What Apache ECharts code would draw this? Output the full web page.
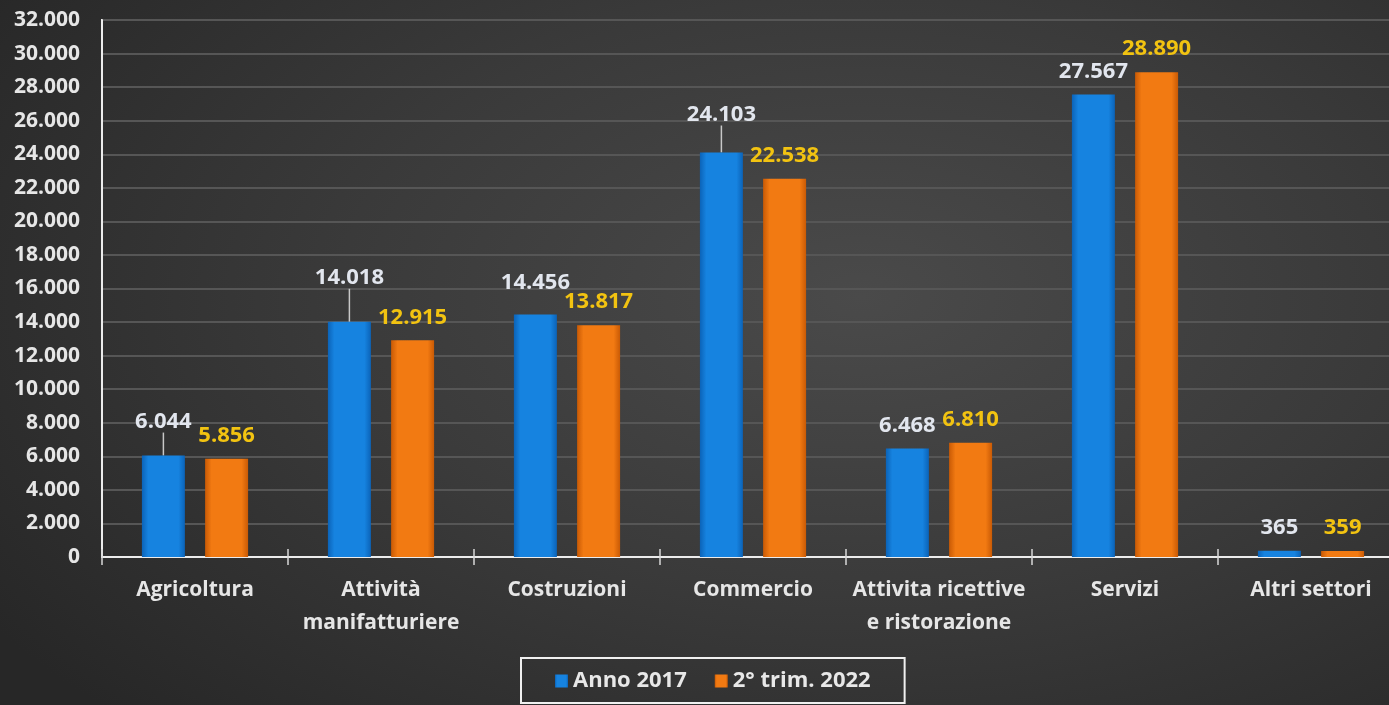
<!DOCTYPE html>
<html>
<head>
<meta charset="utf-8">
<script src="https://cdn.jsdelivr.net/npm/echarts@6/dist/echarts.min.js"></script>
<style>
  html, body { margin: 0; padding: 0; }
  #chart {
    width: 1389px; height: 705px;
    background: radial-gradient(ellipse 75% 85% at 62% 42%, #4a4a4a 0%, #3a3a3a 50%, #272727 100%);
  }
</style>
</head>
<body>
<div id="chart"></div>
<script>
// dati
var categories = ["Agricoltura", "Attività\nmanifatturiere", "Costruzioni", "Commercio",
  "Attivita ricettive\ne ristorazione", "Servizi", "Altri settori"];
var anno2017 = [6044, 14018, 14456, 24103, 6468, 27567, 365];
var trim2022 = [5856, 12915, 13817, 22538, 6810, 28890, 359];
var yTicks = { min: 0, max: 32000, step: 2000 };

// spostamento etichette serie 2017 (px verso l'alto) e linee guida
var lift2017 = [11, 21, 9, 15, 0, 0, 0];
var guide2017 = [true, true, false, true, false, false, false];

function fmt(v) {
  return String(v).replace(/\B(?=(\d{3})+(?!\d))/g, ".");
}

var font = "'Open Sans', sans-serif";

var blueFill = new echarts.graphic.LinearGradient(0, 0, 1, 0, [
  { offset: 0, color: "#0b63b8" },
  { offset: 0.15, color: "#1683e0" },
  { offset: 0.85, color: "#1683e0" },
  { offset: 1, color: "#0b63b8" }
]);
var orangeFill = new echarts.graphic.LinearGradient(0, 0, 1, 0, [
  { offset: 0, color: "#c95a05" },
  { offset: 0.15, color: "#f27a12" },
  { offset: 0.85, color: "#f27a12" },
  { offset: 1, color: "#c95a05" }
]);

var chart = echarts.init(document.getElementById("chart"));

var option = {
  backgroundColor: "transparent",
  textStyle: { fontFamily: font },
  grid: {
    left: 102, width: 1302, top: 20, bottom: 148,
    outerBoundsMode: "none",
    containLabel: false,
    show: true, borderColor: "#ececec", borderWidth: 2,
    backgroundColor: "transparent"
  },
  legend: {
    bottom: 2,
    left: 521,
    padding: [12, 34, 11, 34],
    borderColor: "#f0f0f0",
    borderWidth: 2,
    itemWidth: 13, itemHeight: 13,
    itemGap: 28,
    icon: "rect",
    textStyle: { color: "#e8e8e8", fontSize: 22, fontWeight: "bold", fontFamily: font },
    data: ["Anno 2017", "2° trim. 2022"]
  },
  xAxis: [{
    type: "category",
    data: categories,
    axisLine: { lineStyle: { color: "#ececec", width: 2 } },
    axisTick: { show: true, length: 8, lineStyle: { color: "#d8d8d8", width: 1.5 } },
    axisLabel: {
      interval: 0, color: "#e6e6e6", fontSize: 21, fontWeight: "bold",
      lineHeight: 33, margin: 17, fontFamily: font
    }
  }, {
    type: "category",
    data: categories,
    position: "bottom",
    axisLine: { show: false },
    axisTick: { show: true, inside: true, length: 8, lineStyle: { color: "#d8d8d8", width: 1.5 } },
    axisLabel: { show: false }
  }],
  yAxis: {
    type: "value",
    min: yTicks.min, max: yTicks.max, interval: yTicks.step,
    axisLine: { show: true, lineStyle: { color: "#ececec", width: 2 } },
    axisTick: { show: false },
    splitLine: { lineStyle: { color: "#565656", width: 2 } },
    axisLabel: {
      color: "#e6e6e6", fontSize: 21, fontWeight: "bold", margin: 22,
      fontFamily: font, formatter: fmt
    }
  },
  series: [{
    name: "Anno 2017",
    type: "bar",
    barWidth: 43,
    barGap: "47%",
    itemStyle: { color: blueFill },
    data: anno2017.map(function (v, i) {
      return { value: v, labelLine: { show: guide2017[i] } };
    }),
    label: {
      show: true, position: "top", distance: 12,
      color: "#e2e6ee", fontSize: 22, fontWeight: "bold", fontFamily: font,
      formatter: function (p) { return fmt(p.value); }
    },
    labelLayout: function (p) {
      return { dy: -lift2017[p.dataIndex] };
    },
    labelLine: { lineStyle: { color: "#c8c8c8", width: 1.5 } }
  }, {
    name: "2° trim. 2022",
    type: "bar",
    barWidth: 43,
    itemStyle: { color: orangeFill },
    data: trim2022,
    label: {
      show: true, position: "top", distance: 12,
      color: "#f2c311", fontSize: 22, fontWeight: "bold", fontFamily: font,
      formatter: function (p) { return fmt(p.value); }
    }
  }]
};

chart.setOption(option);
</script>
</body>
</html>
